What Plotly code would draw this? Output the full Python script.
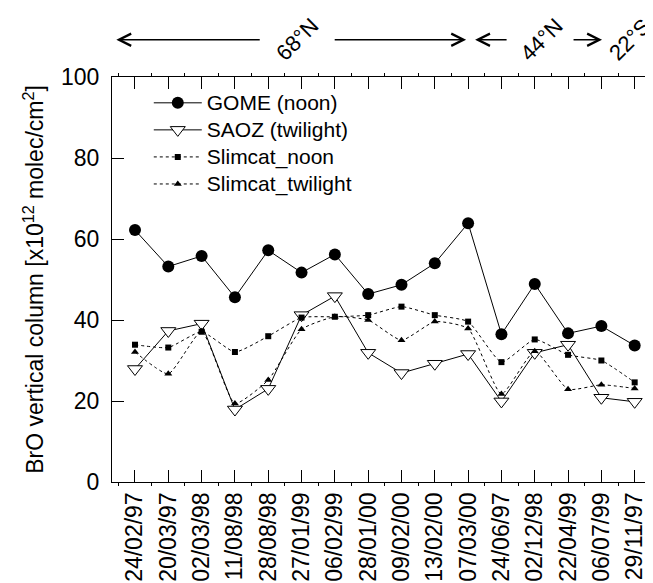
import plotly.graph_objects as go

dates = ["24/02/97", "20/03/97", "02/03/98", "11/08/98", "28/08/98", "27/01/99",
         "06/02/99", "28/01/00", "09/02/00", "13/02/00", "07/03/00", "24/06/97",
         "02/12/98", "22/04/99", "06/07/99", "29/11/97"]
gome = [62.2, 53.2, 55.8, 45.6, 57.2, 51.7, 56.2, 46.4, 48.7, 54.0, 63.9, 36.5,
        48.9, 36.7, 38.5, 33.7]
saoz = [27.9, 37.3, 39.1, 17.9, 23.0, 41.2, 45.9, 31.9, 26.9, 29.2, 31.6, 19.9,
        31.9, 33.9, 20.8, 19.8]
slim_noon = [33.9, 33.2, 37.1, 32.1, 36.0, 40.6, 40.8, 41.2, 43.3, 41.2, 39.6,
             29.6, 35.2, 31.4, 30.0, 24.6]
slim_tw = [32.1, 26.7, 37.2, 19.4, 25.2, 37.7, 40.8, 40.0, 35.0, 39.6, 37.9,
           21.7, 32.3, 22.9, 24.0, 23.1]
yticks = [0, 20, 40, 60, 80, 100]
regions = ["68°N", "44°N", "22°S"]
names = ["GOME (noon)", "SAOZ (twilight)", "Slimcat_noon", "Slimcat_twilight"]

FONT = "Liberation Sans, Arial, sans-serif"
xs = list(range(len(dates)))


def leg(t):
    return '<span style="font-size:21px">' + t + '</span>'


fig = go.Figure()
fig.add_trace(go.Scatter(
    x=xs, y=gome, name=leg(names[0]), mode="lines+markers",
    line=dict(color="black", width=1),
    marker=dict(symbol="circle", size=12, color="black")))
fig.add_trace(go.Scatter(
    x=xs, y=saoz, name=leg(names[1]), mode="lines+markers",
    line=dict(color="black", width=1),
    marker=dict(symbol="triangle-down", size=13, color="white",
                line=dict(color="black", width=1))))
fig.add_trace(go.Scatter(
    x=xs, y=slim_noon, name=leg(names[2]), mode="lines+markers",
    line=dict(color="black", width=1, dash="dot", shape="spline", smoothing=0.5),
    marker=dict(symbol="square", size=6, color="black")))
fig.add_trace(go.Scatter(
    x=xs, y=slim_tw, name=leg(names[3]), mode="lines+markers",
    line=dict(color="black", width=1, dash="dot", shape="spline", smoothing=0.5),
    marker=dict(symbol="triangle-up", size=7, color="black")))

ann = []
# latitude arrows (x in category units)
arrows = [(3.79, -0.56), (5.95, 9.94), (11.2, 10.21), (13.12, 14.02)]
for tail, head in arrows:
    ann.append(dict(x=head, y=1.092, xref="x", yref="paper", ax=tail, ay=0,
                    axref="x", ayref="pixel", showarrow=True, arrowhead=5,
                    arrowsize=1.6, arrowwidth=1.5, arrowcolor="black", text=""))
for txt, xp in zip(regions, [4.87, 12.21, 14.86]):
    ann.append(dict(x=xp, y=1.092, xref="x", yref="paper", text=txt,
                    showarrow=False, textangle=-45, xanchor="center",
                    yanchor="middle", font=dict(size=22, color="black", family=FONT)))

fig.update_layout(
    width=645, height=575,
    margin=dict(l=104, r=0, t=69, b=101, autoexpand=False),
    paper_bgcolor="white", plot_bgcolor="white",
    font=dict(family=FONT, color="black", size=23),
    showlegend=True,
    legend=dict(x=0.068, y=0.982, xanchor="left", yanchor="top",
                bgcolor="rgba(0,0,0,0)", font=dict(size=18.5, family=FONT),
                itemwidth=48, tracegroupgap=0),
    annotations=ann,
    xaxis=dict(range=[-0.69, 15.55], tickmode="array", tickvals=xs, ticktext=dates,
               tickangle=-90, ticks="inside", ticklen=12, tickwidth=1,
               tickcolor="black", showline=True, linecolor="black", linewidth=1.3,
               mirror="ticks", showgrid=False, zeroline=False,
               tickfont=dict(size=23, family=FONT),
               minor=dict(tickmode="linear", tick0=-0.5, dtick=1, ticks="outside",
                          ticklen=3, tickcolor="black", tickwidth=1, showgrid=False)),
    yaxis=dict(range=[0, 100], tickmode="array", tickvals=yticks,
               ticks="inside", ticklen=12, tickwidth=1, tickcolor="black",
               showline=True, linecolor="black", linewidth=1.3, showgrid=False,
               zeroline=False, tickfont=dict(size=23, family=FONT),
               ticklabelstandoff=7,
               title=dict(text="BrO vertical column [x10<sup>12</sup> molec/cm<sup>2</sup>]",
                          font=dict(size=23, family=FONT), standoff=10)),
    yaxis2=dict(range=[0, 100], overlaying="y", side="right", tickmode="array",
                tickvals=yticks, ticks="inside", ticklen=12, tickwidth=1,
                tickcolor="black", showline=False, showticklabels=False,
                showgrid=False, zeroline=False),
)

fig.write_html("out.html")
